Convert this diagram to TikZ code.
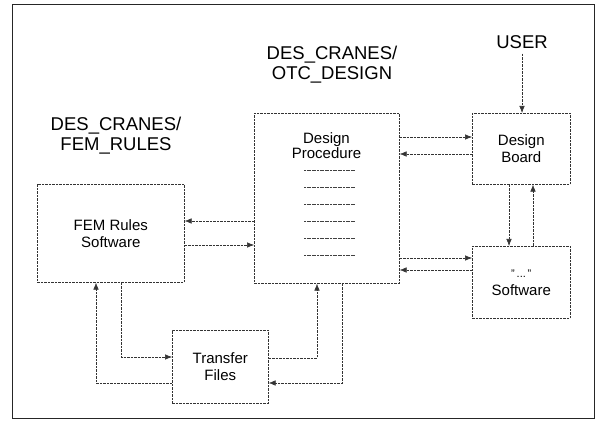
\documentclass[tikz,border=0pt]{standalone}
\usepackage{fontspec}
\setmainfont{Liberation Sans}
\usetikzlibrary{arrows.meta, calc}

\begin{document}
\begin{tikzpicture}[x=1pt, y=-1pt,
    box/.style={draw=black!80, dash pattern=on 2.5pt off 1pt, line width=0.6pt, anchor=north west, inner sep=0pt, align=center, font=\fontsize{15}{17}\selectfont},
    flow/.style={draw=black!80, dash pattern=on 2.5pt off 1pt, line width=0.6pt, -{Latex[length=7pt,width=5.5pt]}},
    ttl/.style={align=center, font=\fontsize{18.5}{20}\selectfont, inner sep=0pt},
    rule/.style={draw=black!75, dash pattern=on 2pt off 0.6pt, line width=0.6pt},
]
\useasboundingbox (0,0) rectangle (599,427);

% Outer frame
\draw[line width=0.9pt, black!85] (12,4) rectangle (594,418);

% === Titles ===
\node[ttl] (user) at (522,42) {USER};
\node[ttl] (otc) at (332,65) {DES\_CRANES/\\OTC\_DESIGN};
\node[ttl] (femlbl) at (116,136) {DES\_CRANES/\\FEM\_RULES};

% === Boxes ===
\node[box, minimum width=145pt, minimum height=170pt] (proc) at (254,113) {};
\node[align=center, font=\fontsize{15}{15}\selectfont, inner sep=0pt] (proctxt) at (326.5,146) {Design\\Procedure};
\foreach \y in {170,187,204,221,238,255}
    \draw[rule] (304,\y) -- (355,\y);

\node[box, minimum width=98pt, minimum height=71pt] (board) at (472,113) {Design\\Board};
\node[box, minimum width=98pt, minimum height=72pt] (soft) at (472,246) {{\fontsize{11}{11}\selectfont "\,...\,"}\\[1pt]Software};
\node[box, minimum width=147pt, minimum height=98pt] (fem) at (37,184) {FEM Rules\\Software};
\node[box, minimum width=96pt, minimum height=73pt] (xfer) at (172,330) {Transfer\\Files};

% === Connectors ===
\draw[flow, shorten <=5pt] (user.south) -- (board.north -| user.south);

% procedure <-> board
\draw[flow] (proc.east |- 0,137) -- (board.west |- 0,137);
\draw[flow] (board.west |- 0,154) -- (proc.east |- 0,154);
% board <-> software
\draw[flow] (board.south -| 509,0) -- (soft.north -| 509,0);
\draw[flow] (soft.north -| 533,0) -- (board.south -| 533,0);
% procedure <-> software
\draw[flow] (proc.east |- 0,258) -- (soft.west |- 0,258);
\draw[flow] (soft.west |- 0,270) -- (proc.east |- 0,270);
% procedure <-> fem rules
\draw[flow] (proc.west |- 0,221) -- (fem.east |- 0,221);
\draw[flow] (fem.east |- 0,245) -- (proc.west |- 0,245);
% fem rules <-> transfer
\draw[flow] (fem.south -| 121,0) |- (xfer.west |- 0,357);
\draw[flow] (xfer.west |- 0,383) -| (fem.south -| 96,0);
% transfer <-> procedure
\draw[flow] (xfer.east |- 0,358) -| (proc.south -| 317,0);
\draw[flow] (proc.south -| 342,0) |- (xfer.east |- 0,383);
\end{tikzpicture}
\end{document}
